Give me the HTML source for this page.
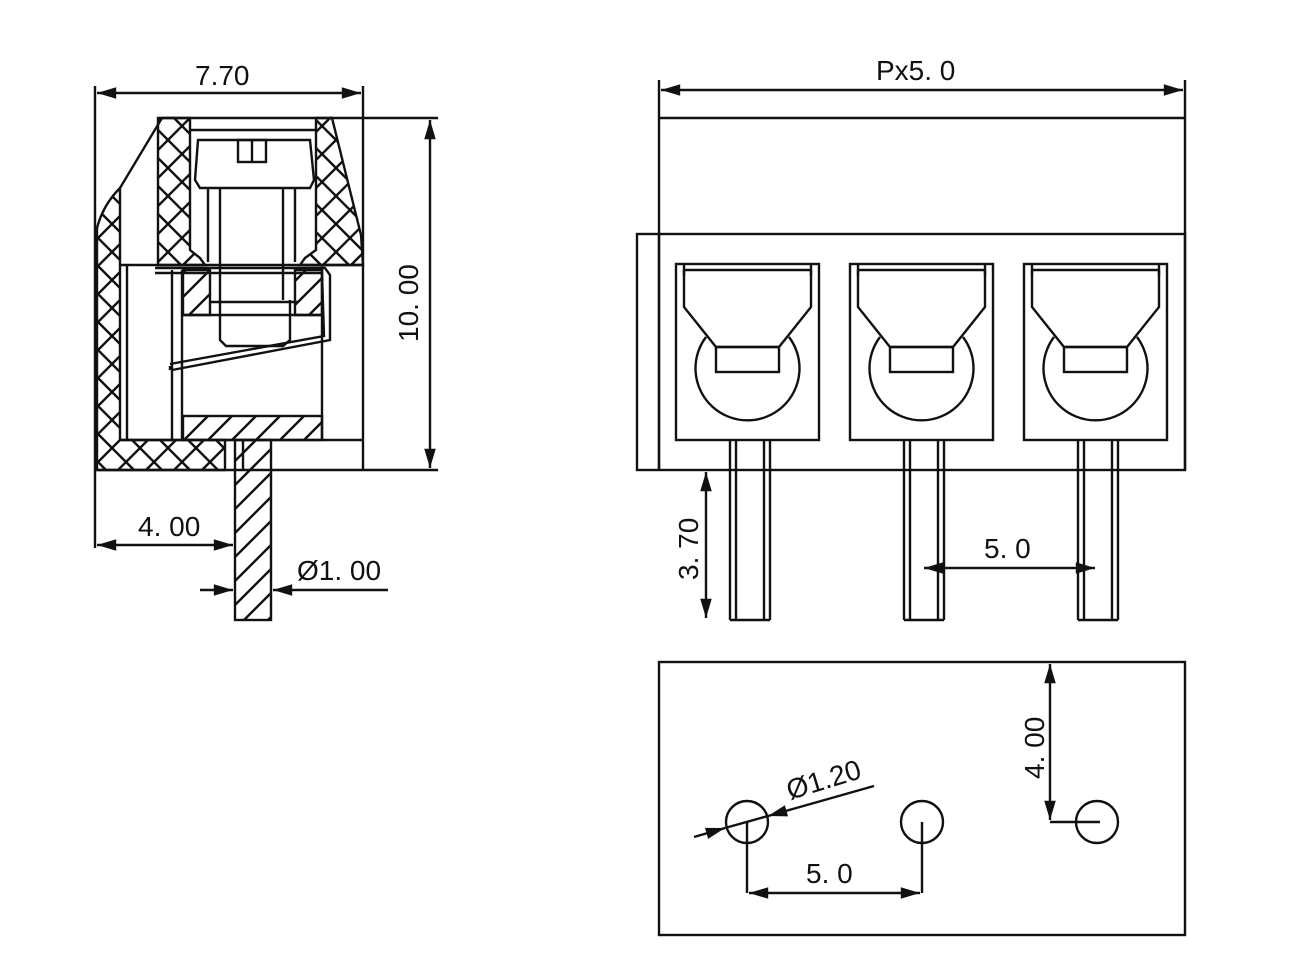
<!DOCTYPE html>
<html><head><meta charset="utf-8"><style>
html,body{margin:0;padding:0;background:#fff}
svg{display:block}
text{font-family:"Liberation Sans",sans-serif;font-size:28px;fill:#111}
</style></head><body>
<svg width="1300" height="975" viewBox="0 0 1300 975" xmlns="http://www.w3.org/2000/svg">
<defs>
<pattern id="xh" width="28" height="28" patternUnits="userSpaceOnUse">
<path d="M0 0L28 28M28 0L0 28" stroke="#111" stroke-width="2.4"/>
</pattern>
<pattern id="dh" width="24" height="24" patternUnits="userSpaceOnUse">
<path d="M0 24L24 0M-6 6L6 -6M18 30L30 18" stroke="#111" stroke-width="2.4"/>
</pattern>
<marker id="ar" viewBox="0 0 10 10" refX="10" refY="5" markerWidth="10" markerHeight="8" orient="auto-start-reverse"><path d="M0 2L10 5L0 8z" fill="#111"/></marker>
</defs>
<g stroke="#111" stroke-width="2.4" fill="none">
<!-- ===== SIDE VIEW ===== -->
<line x1="95" y1="86" x2="95" y2="548"/>
<line x1="363" y1="86" x2="363" y2="470"/>
<line x1="97" y1="93" x2="361" y2="93" marker-start="url(#ar)" marker-end="url(#ar)"/>
<line x1="330" y1="118" x2="438" y2="118"/>
<line x1="363" y1="470" x2="438" y2="470"/>
<line x1="430" y1="120" x2="430" y2="468" marker-start="url(#ar)" marker-end="url(#ar)"/>
<!-- hatched outer wall -->
<line x1="162" y1="118" x2="120" y2="188"/>
<path d="M120 188 Q103 205 97 228 L97 470 L225 470 L225 440 L120 440 Z" fill="url(#xh)"/>
<path d="M158 118 L190 118 L190 250 L200 258 L205 265 L158 265 Z" fill="url(#xh)"/>
<path d="M316 118 L332 118 L361 235 L363 265 L300 265 L305 258 L316 250 Z" fill="url(#xh)"/>
<line x1="162" y1="118" x2="332" y2="118"/>
<line x1="120" y1="265" x2="363" y2="265"/>
<line x1="97" y1="470" x2="363" y2="470"/>
<line x1="190" y1="130" x2="316" y2="130"/>
<!-- screw head -->
<path d="M198 140 L310 140 L314 180 L310 188 L200 188 L195 180 Z"/>
<rect x="238" y="140" width="28" height="22"/>
<line x1="252" y1="140" x2="252" y2="162"/>
<line x1="208" y1="188" x2="208" y2="262"/><line x1="220" y1="188" x2="220" y2="300"/>
<line x1="283" y1="188" x2="283" y2="300"/><line x1="295" y1="188" x2="295" y2="262"/>
<path d="M220 300 L220 340 L226 346 L283 346 L290 340 L290 300"/>
<line x1="210" y1="302" x2="298" y2="302"/>
<!-- clamp plate -->
<path d="M155 268 L325 268 L330 275 L330 340 L172 370" />
<path d="M155 273 L322 273 L324 336 L170 364"/>
<line x1="170" y1="370" x2="170" y2="366"/>
<!-- interior walls -->
<line x1="127" y1="265" x2="127" y2="440"/>
<line x1="172" y1="270" x2="172" y2="440"/><line x1="182" y1="270" x2="182" y2="440"/>
<line x1="322" y1="265" x2="322" y2="440"/>
<path d="M183 270 L210 270 L210 315 L183 315 Z" fill="url(#dh)"/>
<path d="M295 270 L322 270 L322 315 L295 315 Z" fill="url(#dh)"/>
<line x1="183" y1="315" x2="322" y2="315"/>
<rect x="183" y="416" width="139" height="24" fill="url(#dh)"/>
<line x1="120" y1="440" x2="363" y2="440"/>
<!-- pin -->
<rect x="235" y="440" width="36" height="180" fill="url(#dh)"/>
<line x1="243" y1="440" x2="243" y2="470"/>
<!-- 4.00 dim -->
<line x1="97" y1="545" x2="233" y2="545" marker-start="url(#ar)" marker-end="url(#ar)"/>
<line x1="200" y1="590" x2="233" y2="590" marker-end="url(#ar)"/>
<line x1="388" y1="590" x2="273" y2="590" marker-end="url(#ar)"/>

<!-- ===== FRONT VIEW ===== -->
<line x1="659" y1="80" x2="659" y2="470"/>
<line x1="1185" y1="80" x2="1185" y2="470"/>
<line x1="661" y1="90" x2="1183" y2="90" marker-start="url(#ar)" marker-end="url(#ar)"/>
<line x1="659" y1="118" x2="1185" y2="118"/>
<rect x="637" y="234" width="548" height="236"/>
<line x1="659" y1="234" x2="659" y2="470"/>
<g id="term">
<rect x="676" y="264" width="143" height="176"/>
<line x1="684" y1="264" x2="684" y2="276"/><line x1="811" y1="264" x2="811" y2="276"/>
<path d="M684 270 L811 270"/>
<path d="M684 270 L684 307 L716 347 L779 347 L811 307 L811 270"/>
<rect x="716" y="347" width="63" height="25"/>
<path d="M706 337 A52 52 0 1 0 789 337"/>
<line x1="730" y1="440" x2="730" y2="620"/><line x1="736" y1="440" x2="736" y2="620"/>
<line x1="764" y1="440" x2="764" y2="620"/><line x1="770" y1="440" x2="770" y2="620"/>
<line x1="730" y1="620" x2="770" y2="620"/>
</g>
<use href="#term" x="174"/>
<use href="#term" x="348"/>
<line x1="706" y1="472" x2="706" y2="618" marker-start="url(#ar)" marker-end="url(#ar)"/>
<line x1="924" y1="568" x2="1095" y2="568" marker-start="url(#ar)" marker-end="url(#ar)"/>

<!-- ===== TOP VIEW ===== -->
<rect x="659" y="662" width="526" height="273"/>
<circle cx="747" cy="822" r="21"/>
<circle cx="922" cy="822" r="21"/>
<circle cx="1097" cy="822" r="21"/>
<line x1="694" y1="837" x2="725" y2="828" marker-end="url(#ar)"/>
<line x1="874" y1="786" x2="768" y2="816" marker-end="url(#ar)"/>
<line x1="725" y1="828" x2="768" y2="816"/>
<path d="M747 822 L747 893 M922 822 L922 893"/>
<line x1="749" y1="893" x2="920" y2="893" marker-start="url(#ar)" marker-end="url(#ar)"/>
<line x1="1050" y1="664" x2="1050" y2="820" marker-start="url(#ar)" marker-end="url(#ar)"/>
<path d="M1050 822 L1100 822"/>
</g>
<text x="195" y="85">7.70</text>
<text x="876" y="80">Px5. 0</text>
<text transform="translate(418,342) rotate(-90)">10. 00</text>
<text x="138" y="536">4. 00</text>
<text x="297" y="580">Ø1. 00</text>
<text transform="translate(698,580) rotate(-90)">3. 70</text>
<text x="984" y="558">5. 0</text>
<text transform="translate(790,800) rotate(-17)">Ø1.20</text>
<text transform="translate(1044,779) rotate(-90)">4. 00</text>
<text x="806" y="883">5. 0</text>
</svg>
</body></html>
